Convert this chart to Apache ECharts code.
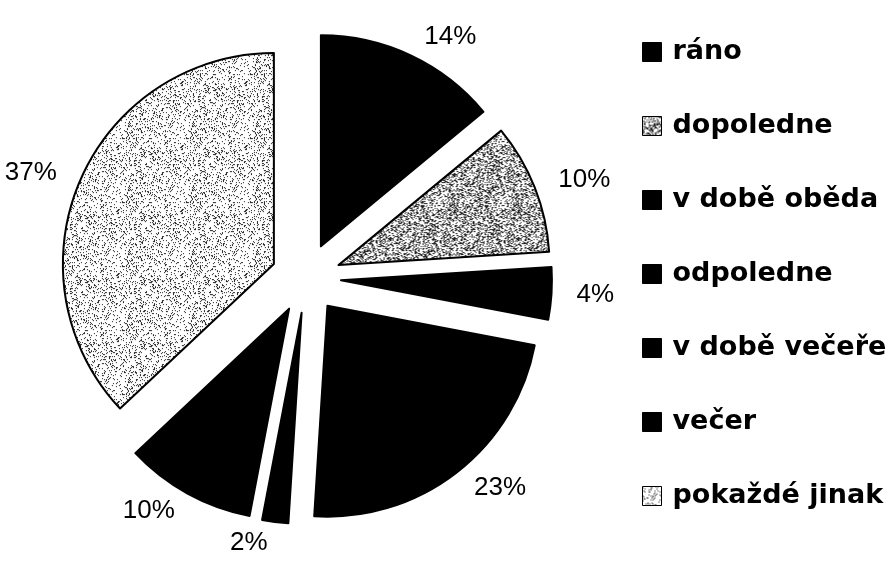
<!DOCTYPE html>
<html>
<head>
<meta charset="utf-8">
<script src="https://cdn.jsdelivr.net/npm/echarts@6/dist/echarts.min.js"></script>
<style>
  html, body { margin: 0; padding: 0; background: #fff; }
  #container { width: 889px; height: 566px; }
</style>
</head>
<body>
<div id="container"></div>
<script>
// kategorie a hodnoty (%)
var categories = ['ráno', 'dopoledne', 'v době oběda', 'odpoledne', 'v době večeře', 'večer', 'pokaždé jinak'];
var values = [14, 10, 4, 23, 2, 10, 37];

// zrnitá výplň (deterministický šum)
function makeStipple(density) {
    var c = document.createElement('canvas');
    c.width = 64; c.height = 64;
    var ctx = c.getContext('2d');
    ctx.fillStyle = '#fff';
    ctx.fillRect(0, 0, 64, 64);
    var seed = 12345;
    ctx.fillStyle = '#222';
    for (var y = 0; y < 64; y++) {
        for (var x = 0; x < 64; x++) {
            seed = (seed * 1103515245 + 12345) & 0x7fffffff;
            if ((seed % 1000) / 1000 < density) {
                ctx.fillRect(x, y, 1, 1);
            }
        }
    }
    return { image: c, repeat: 'repeat' };
}

var black = '#000';
var colors = [black, makeStipple(0.38), black, black, black, black, makeStipple(0.16)];

var dom = document.getElementById('container');
var myChart = echarts.init(dom);

var pieData = [];
for (var i = 0; i < categories.length; i++) {
    pieData.push({
        name: categories[i],
        value: values[i],
        selected: true,
        itemStyle: { color: colors[i] }
    });
}

var option = {
    backgroundColor: '#fff',
    animation: false,
    legend: {
        orient: 'vertical',
        left: 637,
        top: 32,
        itemWidth: 19,
        itemHeight: 19,
        itemGap: 44,
        icon: 'rect',
        selectedMode: false,
        itemStyle: { borderColor: '#000', borderWidth: 1 },
        textStyle: {
            fontFamily: 'DejaVu Sans, sans-serif',
            fontWeight: 'bold',
            fontSize: 27,
            lineHeight: 30,
            padding: [0, 0, 0, 6],
            color: '#000'
        },
        data: categories
    },
    series: [{
        type: 'pie',
        center: [306, 278],
        radius: [0, 211],
        startAngle: 90,
        clockwise: true,
        selectedMode: 'multiple',
        selectedOffset: 35,
        silent: true,
        data: pieData,
        itemStyle: { borderColor: '#000', borderWidth: 2 },
        label: {
            show: true,
            position: 'outside',
            formatter: '{c}%',
            fontFamily: 'Liberation Sans, Arial, sans-serif',
            fontSize: 26,
            color: '#000'
        },
        labelLine: { show: false, length: 20, length2: 0 },
        emphasis: { disabled: true }
    }]
};

myChart.setOption(option, true);
</script>
</body>
</html>
